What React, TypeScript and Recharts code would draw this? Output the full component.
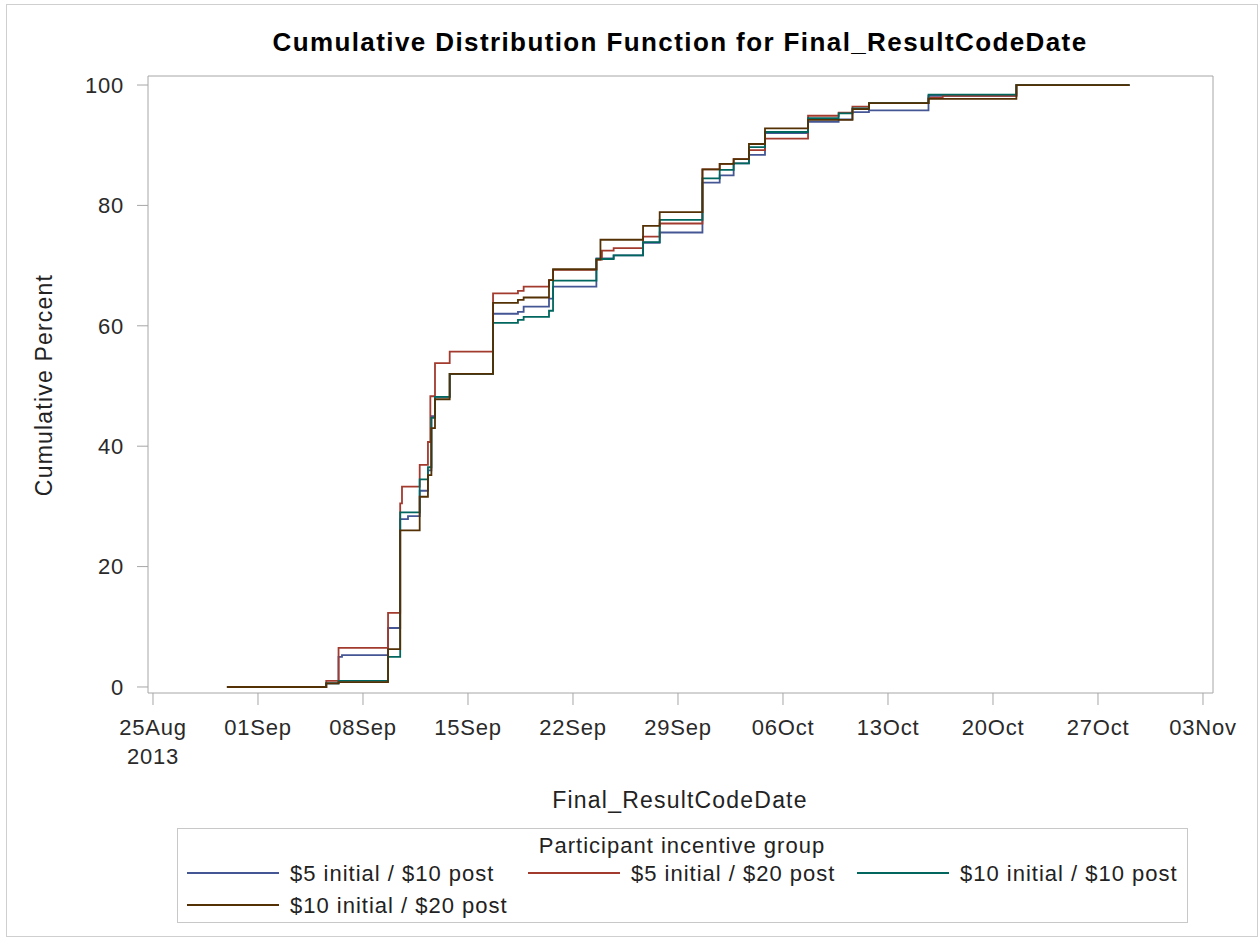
import { LineChart, Line, XAxis, YAxis, ReferenceLine } from 'recharts'

// days after 25Aug2013 where at least one group's cumulative percent changes
const stepDays = [
  4.93, 11.55, 12.37, 12.6, 15.67, 16.48, 16.6, 17.0, 17.78, 18.33, 18.49, 18.56, 18.8,
  19.78, 22.67, 24.33, 24.71, 26.4, 26.67, 29.56, 29.83, 29.93, 30.71, 32.67, 33.78,
  36.63, 37.78, 38.71, 39.73, 40.8, 43.67, 45.71, 46.63, 47.73, 51.7, 52.65, 57.56, 65.1,
]
const pct5i10p = [
  0, 0.6, 5.0, 5.3, 9.8, 27.9, 27.9, 28.4, 32.6, 36.0, 36.0, 45.0, 48.2,
  52.0, 62.0, 62.3, 63.2, 64.5, 66.5, 71.2, 71.2, 71.2, 71.7, 73.8, 75.5,
  83.8, 85.0, 87.0, 88.4, 92.0, 93.9, 94.3, 95.5, 95.8, 98.2, 98.2, 100, 100,
]
const pct5i20p = [
  0, 1.0, 6.5, 6.5, 12.3, 30.5, 33.3, 33.3, 36.9, 40.7, 48.3, 48.3, 53.8,
  55.7, 65.4, 65.8, 66.5, 67.6, 69.3, 71.0, 71.0, 72.5, 72.9, 74.8, 77.0,
  86.0, 86.9, 87.7, 89.2, 91.1, 94.9, 95.4, 96.4, 97.0, 97.9, 98.2, 100, 100,
]
const pct10i10p = [
  0, 0.6, 1.0, 1.0, 5.0, 29.0, 29.0, 29.0, 34.5, 36.5, 36.5, 44.7, 48.2,
  52.0, 60.5, 61.0, 61.5, 62.5, 67.5, 71.1, 71.1, 71.1, 71.7, 73.9, 77.6,
  84.5, 85.9, 87.0, 89.7, 92.2, 94.5, 95.3, 96.1, 97.0, 98.4, 98.4, 100, 100,
]
const pct10i20p = [
  0, 0.6, 0.8, 0.8, 6.3, 26.0, 26.0, 26.0, 31.6, 35.2, 35.2, 43.0, 47.8,
  52.0, 63.8, 64.3, 64.7, 67.6, 69.4, 71.0, 74.3, 74.3, 74.3, 76.6, 78.9,
  86.0, 86.9, 87.7, 90.2, 92.8, 94.2, 94.2, 96.0, 97.0, 97.7, 97.7, 100, 100,
]

const groupNames = [
  '$5 initial / $10 post',
  '$5 initial / $20 post',
  '$10 initial / $10 post',
  '$10 initial / $20 post',
]
const groupKeys = ['g1', 'g2', 'g3', 'g4']
const groupColors = ['#445694', '#A23A2E', '#01665E', '#543005']

const tickDays = [0, 7, 14, 21, 28, 35, 42, 49, 56, 63, 70]
const tickLabels = ['25Aug', '01Sep', '08Sep', '15Sep', '22Sep', '29Sep', '06Oct', '13Oct', '20Oct', '27Oct', '03Nov']
const yTicks = [0, 20, 40, 60, 80, 100]

const xDomain = [-0.333, 70.667]
const yDomain = [-1.0, 101.5]

const FONT = '"Liberation Sans", Arial, sans-serif'
const AXIS = '#a6a6a6'

// legend item positions (line start x, line y)
const legendSlots = [
  { x: 187, y: 873 },
  { x: 528, y: 873 },
  { x: 857, y: 873 },
  { x: 187, y: 905 },
]

function DateTick(props: any) {
  const { x, y, payload } = props
  const i = tickDays.indexOf(payload.value)
  return (
    <g transform={`translate(${x},${y})`}>
      <text textAnchor="middle" fontSize={22} fill="#2a2a2a" letterSpacing={0.8} fontFamily={FONT}>
        <tspan x={0} dy={30}>{tickLabels[i]}</tspan>
        {i === 0 && <tspan x={0} dy={29}>2013</tspan>}
      </text>
    </g>
  )
}

export default function App() {
  const data = stepDays.map((day, i) => ({
    day,
    g1: pct5i10p[i],
    g2: pct5i20p[i],
    g3: pct10i10p[i],
    g4: pct10i20p[i],
  }))

  return (
    <div style={{ position: 'absolute', left: 0, top: 0, width: 1259, height: 940, background: '#fff', fontFamily: FONT }}>
      <LineChart width={1259} height={940} data={data} margin={{ top: 76, right: 46, left: 48, bottom: 187 }}>
        <XAxis
          dataKey="day"
          type="number"
          domain={xDomain}
          ticks={tickDays}
          allowDataOverflow
          height={60}
          tickSize={12}
          tickMargin={0}
          stroke={AXIS}
          tick={<DateTick />}
        />
        <YAxis
          type="number"
          domain={yDomain}
          ticks={yTicks}
          allowDataOverflow
          width={100}
          tickSize={11}
          tickMargin={13}
          stroke={AXIS}
          tick={{ fontSize: 22, fill: '#2a2a2a', fontFamily: FONT, letterSpacing: 0.8 }}
        />
        {/* top and right sides of the plot frame */}
        <ReferenceLine y={yDomain[1]} stroke={AXIS} strokeWidth={1} ifOverflow="visible" />
        <ReferenceLine x={xDomain[1]} stroke={AXIS} strokeWidth={1} ifOverflow="visible" />
        {groupKeys.map((k, i) => (
          <Line
            key={k}
            type="stepAfter"
            dataKey={k}
            name={groupNames[i]}
            stroke={groupColors[i]}
            strokeWidth={1.8}
            dot={false}
            isAnimationActive={false}
          />
        ))}
      </LineChart>

      <svg width={1259} height={940} style={{ position: 'absolute', left: 0, top: 0, pointerEvents: 'none' }}>
        <rect x={6.5} y={4.5} width={1251} height={932} fill="none" stroke="#cfcfcf" />
        <text x={680} y={51} textAnchor="middle" fontSize={26} fontWeight="bold" letterSpacing={1.4} fill="#000" fontFamily={FONT}>
          Cumulative Distribution Function for Final_ResultCodeDate
        </text>
        <text transform="translate(52,385) rotate(-90)" textAnchor="middle" fontSize={23} letterSpacing={1.2} fill="#222" fontFamily={FONT}>
          Cumulative Percent
        </text>
        <text x={680} y={808} textAnchor="middle" fontSize={23} letterSpacing={1.2} fill="#222" fontFamily={FONT}>
          Final_ResultCodeDate
        </text>
        <rect x={177.5} y={828.5} width={1010} height={94} fill="none" stroke="#c8c8c8" />
        <text x={682} y={853} textAnchor="middle" fontSize={22} letterSpacing={1} fill="#222" fontFamily={FONT}>
          Participant incentive group
        </text>
        {groupNames.map((name, i) => (
          <g key={name}>
            <line x1={legendSlots[i].x} x2={legendSlots[i].x + 92} y1={legendSlots[i].y} y2={legendSlots[i].y}
              stroke={groupColors[i]} strokeWidth={1.8} />
            <text x={legendSlots[i].x + 103} y={legendSlots[i].y + 8} fontSize={22} letterSpacing={1} fill="#222" fontFamily={FONT}>
              {name}
            </text>
          </g>
        ))}
      </svg>
    </div>
  )
}
